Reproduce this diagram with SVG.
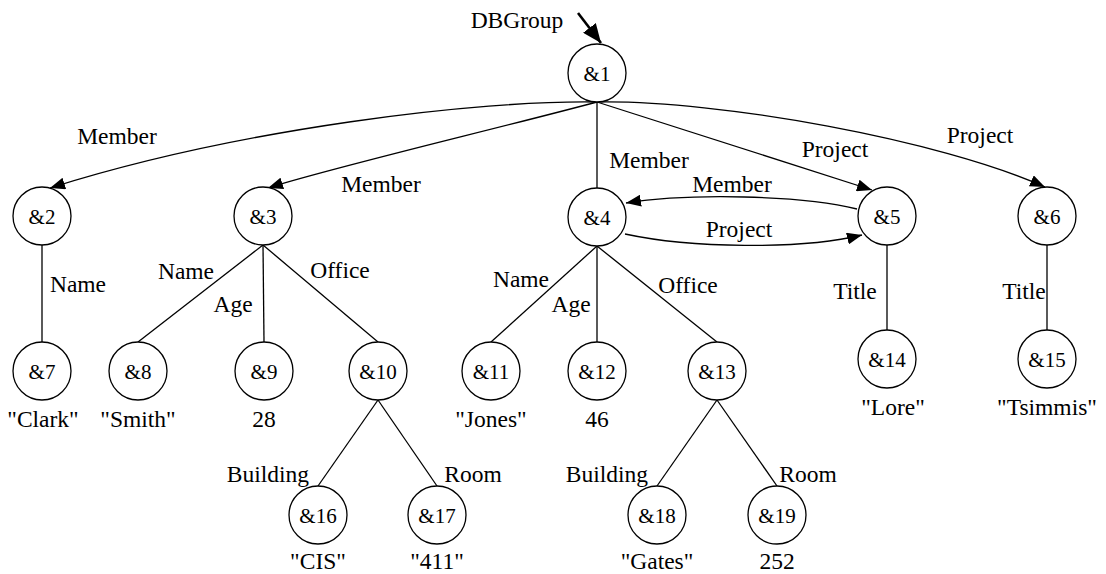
<svg xmlns="http://www.w3.org/2000/svg" width="1106" height="574" viewBox="0 0 1106 574">
  <style>
    .node circle { fill: #fff; stroke: #000; stroke-width: 1.3; }
    .id { font-family: "Liberation Serif", "Times New Roman", serif; font-size: 21px; text-anchor: middle; fill: #000; }
    .lbl { font-family: "Liberation Serif", "Times New Roman", serif; font-size: 23.5px; text-anchor: middle; fill: #000; }
    .edge { fill: none; stroke: #000; stroke-width: 1.3; }
    .arrow { marker-end: url(#head); }
  </style>
  <defs>
    <marker id="head" markerUnits="userSpaceOnUse" markerWidth="16" markerHeight="12" refX="15" refY="6" orient="auto">
      <path d="M0,0 L15,6 L0,12 Z" fill="#000"/>
    </marker>
    <marker id="bighead" markerUnits="userSpaceOnUse" markerWidth="20" markerHeight="16" refX="19" refY="8" orient="auto">
      <path d="M0,0 L19,8 L0,16 Z" fill="#000"/>
    </marker>
  </defs>
  <rect width="1106" height="574" fill="#fff"/>

  <!-- entry point -->
  <g id="entry">
    <text class="lbl" x="517" y="28">DBGroup</text>
    <line x1="578" y1="13" x2="601" y2="43" stroke="#000" stroke-width="2.6" marker-end="url(#bighead)"/>
  </g>

  <!-- connectors -->
  <g id="connectors">
    <path class="edge arrow" d="M597,102 C480,100 240,128 50,188"/>
    <path class="edge arrow" d="M597,102 C500,128 330,168 268,188"/>
    <line class="edge" x1="597" y1="102" x2="597" y2="188" stroke-width="2"/>
    <path class="edge arrow" d="M597,102 L872,190"/>
    <path class="edge arrow" d="M597,102 C720,100 940,140 1045,187"/>
    <path class="edge arrow" d="M857,209 C800,195 690,193 626,203"/>
    <path class="edge arrow" d="M625,234 C690,248 800,250 862,235"/>

    <line class="edge" x1="42" y1="245" x2="42" y2="342"/>
    <line class="edge" x1="263" y1="245" x2="138" y2="342"/>
    <line class="edge" x1="263" y1="245" x2="264" y2="342"/>
    <line class="edge" x1="263" y1="245" x2="378" y2="342"/>
    <line class="edge" x1="597" y1="246" x2="491" y2="342"/>
    <line class="edge" x1="597" y1="246" x2="597" y2="342"/>
    <line class="edge" x1="597" y1="246" x2="717" y2="342"/>
    <line class="edge" x1="887" y1="245" x2="887" y2="330"/>
    <line class="edge" x1="1047" y1="245" x2="1047" y2="330"/>
    <line class="edge" x1="378" y1="400" x2="318" y2="486"/>
    <line class="edge" x1="378" y1="400" x2="437" y2="486"/>
    <line class="edge" x1="717" y1="400" x2="657" y2="486"/>
    <line class="edge" x1="717" y1="400" x2="777" y2="486"/>

    <!-- edge labels -->
    <text class="lbl" x="117" y="144">Member</text>
    <text class="lbl" x="381" y="192">Member</text>
    <text class="lbl" x="649" y="168">Member</text>
    <text class="lbl" x="835" y="157">Project</text>
    <text class="lbl" x="980" y="143">Project</text>
    <text class="lbl" x="732" y="192">Member</text>
    <text class="lbl" x="739" y="237">Project</text>
    <text class="lbl" x="78" y="292">Name</text>
    <text class="lbl" x="186" y="279">Name</text>
    <text class="lbl" x="233" y="312">Age</text>
    <text class="lbl" x="340" y="278">Office</text>
    <text class="lbl" x="521" y="287">Name</text>
    <text class="lbl" x="571" y="312">Age</text>
    <text class="lbl" x="688" y="293">Office</text>
    <text class="lbl" x="855" y="299">Title</text>
    <text class="lbl" x="1024" y="299">Title</text>
    <text class="lbl" x="268" y="482">Building</text>
    <text class="lbl" x="473" y="482">Room</text>
    <text class="lbl" x="607" y="482">Building</text>
    <text class="lbl" x="808" y="482">Room</text>
  </g>

  <!-- nodes -->
  <g id="n1" class="node"><circle cx="597" cy="73" r="29"/><text class="id" x="597" y="81">&amp;1</text></g>
  <g id="n2" class="node"><circle cx="42" cy="216" r="29"/><text class="id" x="42" y="224">&amp;2</text></g>
  <g id="n3" class="node"><circle cx="263" cy="216" r="29"/><text class="id" x="263" y="224">&amp;3</text></g>
  <g id="n4" class="node"><circle cx="597" cy="217" r="29"/><text class="id" x="597" y="225">&amp;4</text></g>
  <g id="n5" class="node"><circle cx="887" cy="216" r="29"/><text class="id" x="887" y="224">&amp;5</text></g>
  <g id="n6" class="node"><circle cx="1047" cy="216" r="29"/><text class="id" x="1047" y="224">&amp;6</text></g>

  <g id="n7" class="node"><circle cx="42" cy="371" r="29"/><text class="id" x="42" y="379">&amp;7</text><text class="lbl" x="43" y="427">"Clark"</text></g>
  <g id="n8" class="node"><circle cx="138" cy="371" r="29"/><text class="id" x="138" y="379">&amp;8</text><text class="lbl" x="138" y="427">"Smith"</text></g>
  <g id="n9" class="node"><circle cx="264" cy="371" r="29"/><text class="id" x="264" y="379">&amp;9</text><text class="lbl" x="264" y="427">28</text></g>
  <g id="n10" class="node"><circle cx="378" cy="371" r="29"/><text class="id" x="378" y="379">&amp;10</text></g>
  <g id="n11" class="node"><circle cx="491" cy="371" r="29"/><text class="id" x="491" y="379">&amp;11</text><text class="lbl" x="491" y="427">"Jones"</text></g>
  <g id="n12" class="node"><circle cx="597" cy="371" r="29"/><text class="id" x="597" y="379">&amp;12</text><text class="lbl" x="597" y="427">46</text></g>
  <g id="n13" class="node"><circle cx="717" cy="371" r="29"/><text class="id" x="717" y="379">&amp;13</text></g>
  <g id="n14" class="node"><circle cx="887" cy="359" r="29"/><text class="id" x="887" y="367">&amp;14</text><text class="lbl" x="893" y="415">"Lore"</text></g>
  <g id="n15" class="node"><circle cx="1047" cy="359" r="29"/><text class="id" x="1047" y="367">&amp;15</text><text class="lbl" x="1047" y="415">"Tsimmis"</text></g>

  <g id="n16" class="node"><circle cx="318" cy="515" r="29"/><text class="id" x="318" y="523">&amp;16</text><text class="lbl" x="318" y="569">"CIS"</text></g>
  <g id="n17" class="node"><circle cx="437" cy="515" r="29"/><text class="id" x="437" y="523">&amp;17</text><text class="lbl" x="437" y="569">"411"</text></g>
  <g id="n18" class="node"><circle cx="657" cy="515" r="29"/><text class="id" x="657" y="523">&amp;18</text><text class="lbl" x="657" y="569">"Gates"</text></g>
  <g id="n19" class="node"><circle cx="777" cy="515" r="29"/><text class="id" x="777" y="523">&amp;19</text><text class="lbl" x="777" y="569">252</text></g>
</svg>
